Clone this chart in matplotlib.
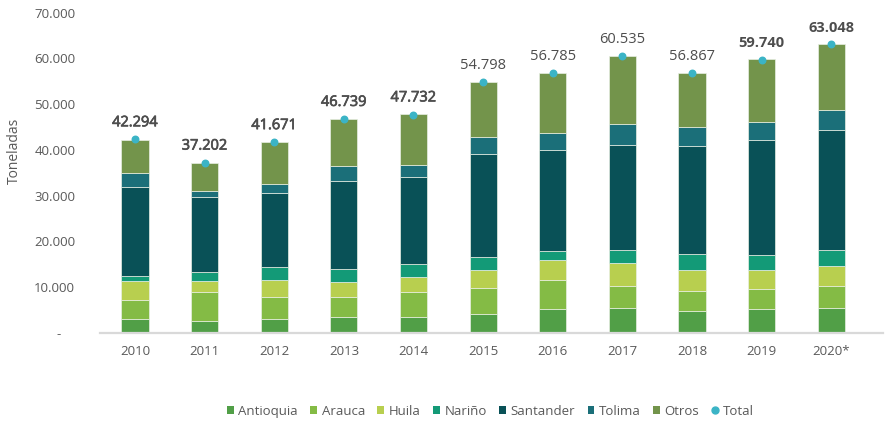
import matplotlib
matplotlib.use("Agg")
import matplotlib.pyplot as plt
import matplotlib.patheffects as pe
import numpy as np
from matplotlib.lines import Line2D
from matplotlib.patches import Patch

plt.rcParams["font.family"] = ["Open Sans", "DejaVu Sans"]

years = ["2010", "2011", "2012", "2013", "2014", "2015", "2016", "2017", "2018", "2019", "2020*"]

antioquia = [3135, 2550, 3135, 3430, 3430, 4230, 5250, 5390, 4880, 5250, 5390]
arauca = [4010, 6340, 4665, 4450, 5470, 5540, 6270, 4960, 4300, 4370, 4810]
huila = [4300, 2400, 3860, 3210, 3350, 4080, 4370, 4960, 4520, 4230, 4370]
narino = [1090, 2040, 2700, 2770, 2920, 2770, 1970, 2770, 3500, 3280, 3500]
santander = [19460, 16330, 16260, 19320, 18880, 22530, 22020, 22960, 23550, 25000, 26390]
tolima = [2915, 1460, 1970, 3280, 2620, 3570, 3720, 4670, 4230, 4080, 4370]
otros = [7360, 6050, 9110, 10280, 11080, 12170, 13270, 14800, 11880, 13560, 14220]
total = [42294, 37202, 41671, 46739, 47732, 54798, 56785, 60535, 56867, 59740, 63048]
label_weights = ["semi"] * 5 + ["normal"] * 4 + ["bold"] * 2

series = [
    ("Antioquia", antioquia, "#519f47"),
    ("Arauca", arauca, "#84bb45"),
    ("Huila", huila, "#b8cf4f"),
    ("Nariño", narino, "#139a77"),
    ("Santander", santander, "#095157"),
    ("Tolima", tolima, "#1b6f79"),
    ("Otros", otros, "#73944b"),
]

text_color = "#595959"

fig = plt.figure(figsize=(8.95, 4.23), dpi=100)
ax = fig.add_axes([0.112, 0.213, 0.875, 0.757])

x = np.arange(len(years))
bottom = np.zeros(len(years))
for name, vals, color in series:
    vals = np.array(vals, dtype=float)
    # pieces separated by a thin light line like the original
    ax.bar(x, vals, bottom=bottom, width=0.39, color=color,
           edgecolor="#e8efe4", linewidth=0.5, label=name, zorder=2)
    bottom += vals

ax.scatter(x, total, s=22, color="#3bb4c6", zorder=4, label="Total")

for xi, t, w in zip(x, total, label_weights):
    lab = f"{t:,}".replace(",", ".")
    txt = ax.text(xi, t + 2000, lab, ha="center", va="bottom", fontsize=10.5,
                  color="#4d4d4d", fontweight="bold" if w == "bold" else "normal")
    if w == "semi":
        # no semibold face installed, fake it with a thin stroke
        txt.set_path_effects([pe.withStroke(linewidth=0.5, foreground="#4d4d4d")])

ax.set_xlim(-0.5, len(years) - 0.25)
ax.set_ylim(0, 70000)
ax.set_yticks(np.arange(0, 70001, 10000))
ax.set_yticklabels(["-    "] + [f"{v:,}".replace(",", ".") for v in range(10000, 70001, 10000)])
ax.set_xticks(x)
ax.set_xticklabels(years)
ax.tick_params(axis="both", length=0, labelsize=9.5, labelcolor=text_color)
ax.tick_params(axis="x", pad=9)
ax.tick_params(axis="y", pad=18)

for side in ["top", "right", "left"]:
    ax.spines[side].set_visible(False)
ax.spines["bottom"].set_color("#d9d9d9")
ax.spines["bottom"].set_linewidth(1.6)
ax.spines["bottom"].set_bounds(-0.5, len(years) - 0.25)

ax.set_ylabel("Toneladas", fontsize=10, color=text_color)
ax.yaxis.set_label_coords(-0.1, 0.57)

handles = [Patch(facecolor=c, label=n) for n, _, c in series]
handles.append(Line2D([], [], marker="o", linestyle="none", markersize=5,
                      markerfacecolor="#3bb4c6", markeredgecolor="#3bb4c6", label="Total"))
fig.legend(handles=handles, loc="center", bbox_to_anchor=(0.548, 0.028), ncol=8,
           frameon=False, fontsize=9.5, handlelength=0.5, handleheight=0.5,
           handletextpad=0.35, columnspacing=0.95, labelcolor=text_color)

fig.savefig("out.png", dpi=100)
